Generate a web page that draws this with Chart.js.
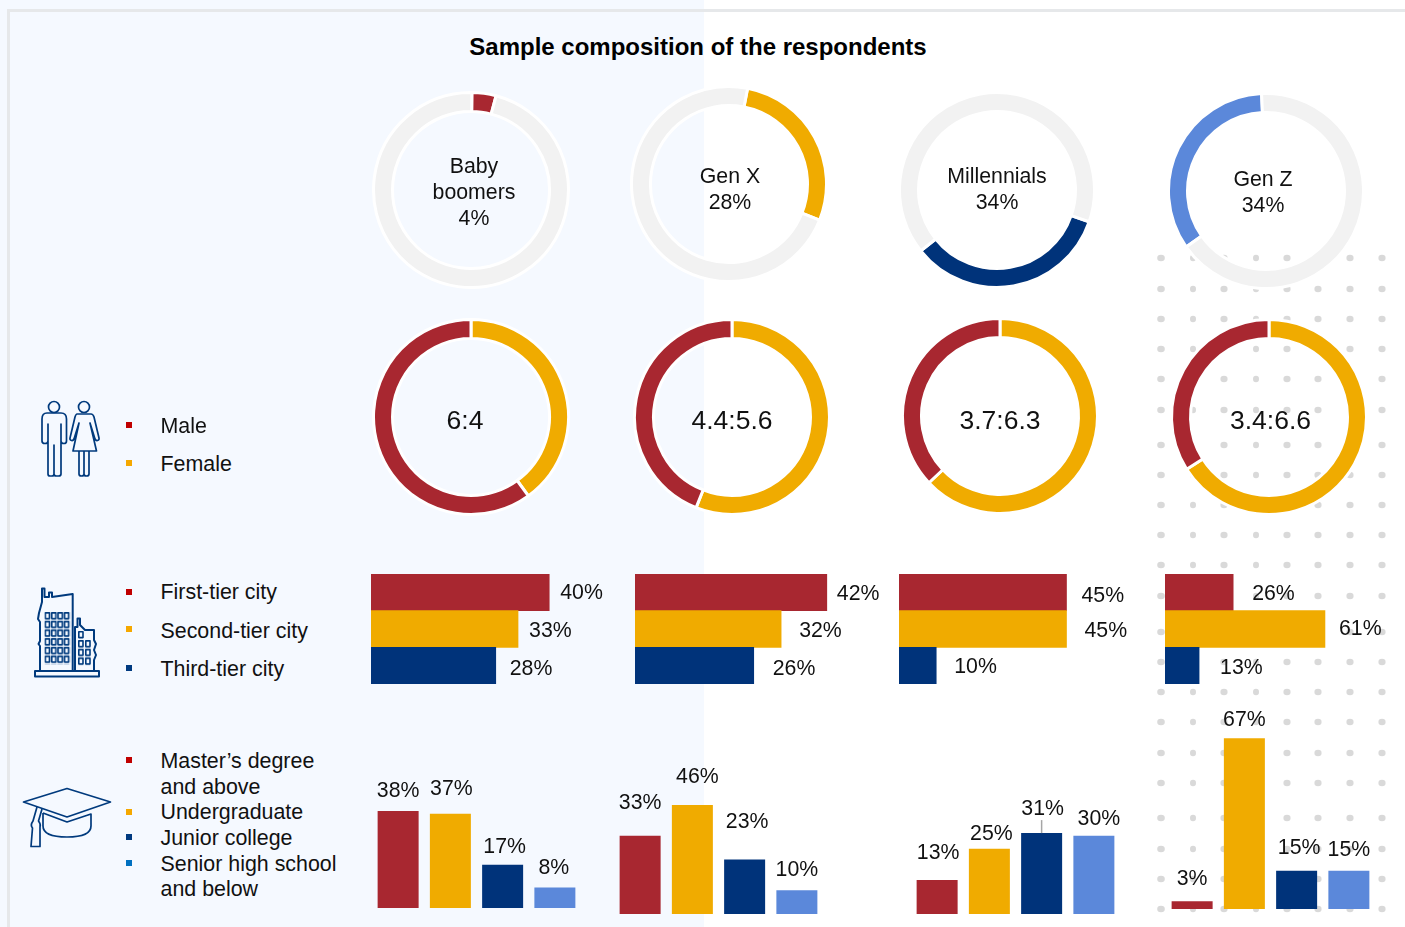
<!DOCTYPE html>
<html>
<head>
<meta charset="utf-8">
<title>Sample composition of the respondents</title>
<script src="https://cdn.jsdelivr.net/npm/chart.js@4"></script>
<style>
    html, body { margin: 0; padding: 0; background: #fff; }
    body { position: relative; width: 1405px; height: 927px; overflow: hidden; font-family: "Liberation Sans", Arial, sans-serif; color: #111; }
    #panel { position: absolute; left: 0; top: 0; width: 704px; height: 927px; background: #f5f9ff; }
    #frameTop { position: absolute; left: 7px; top: 9px; width: 1398px; height: 3px; background: #e6e8ea; }
    #frameLeft { position: absolute; left: 7px; top: 9px; width: 3px; height: 918px; background: #e6e8ea; }
    h1 { position: absolute; left: 398px; top: 33px; width: 600px; margin: 0; font-size: 24px; line-height: 28px; font-weight: bold; text-align: center; color: #000; }
    canvas { position: absolute; }
    .legend { position: absolute; left: 160.5px; font-size: 21.4px; line-height: 26px; white-space: nowrap; transform: translateY(-50%); }
    .marker { position: absolute; left: 126px; width: 6px; height: 6px; transform: translateY(-50%); }
    .center { position: absolute; text-align: center; font-size: 21.3px; line-height: 26px; white-space: nowrap; transform: translate(-50%, -50%); }
    .ratio { font-size: 26.5px; line-height: 30px; }
    svg { position: absolute; left: 0; top: 0; }
</style>
</head>
<body>
<div id="panel"></div>
<svg id="dots" width="1405" height="927"></svg>
<div id="frameTop"></div>
<div id="frameLeft"></div>
<h1>Sample composition of the respondents</h1>

<svg width="1405" height="927" fill="none" stroke="#003a7d" stroke-width="1.7" stroke-linejoin="round">
    <defs>
        <pattern id="windows" x="44.5" y="612" width="6.4" height="8.7" patternUnits="userSpaceOnUse">
            <rect x="0.8" y="0.8" width="4.2" height="5.8" fill="none" stroke="#003a7d" stroke-width="1.6"/>
        </pattern>
        <pattern id="windowsSmall" x="78" y="640" width="7" height="8.7" patternUnits="userSpaceOnUse">
            <rect x="0.8" y="0.8" width="4.2" height="5.8" fill="none" stroke="#003a7d" stroke-width="1.6"/>
        </pattern>
    </defs>
    <!-- people -->
    <circle cx="54" cy="407" r="5.5"/>
    <path d="M61 424 V474 Q61 476 58.5 476 H56.5 Q54 476 54 474 V445 V474 Q54 476 52 476 H50 Q48 476 48 474 V424 V441 Q48 443.5 45 443.5 Q42 443.5 42 441 V419 Q42 413 47 413 H61 Q66.5 413 66.5 419 V441 Q66.5 443.5 64 443.5 Q61 443.5 61 441 Z"/>
    <circle cx="84" cy="407" r="5.5"/>
    <path d="M77 414 H91 Q93 414 94 417 L99 438 Q99.5 440 97.5 440.5 Q96 441 95 439 L90 423 L96.5 451 H73 L79 423 L74 439 Q73 441 71.5 440.5 Q69.5 440 70 438 L75 417 Q76 414 77 414 Z"/>
    <path d="M79 451 V474 Q79 476 81.5 476 Q84 476 84 474 V451 M84 474 Q84 476 86.5 476 Q89 476 89 474 V451"/>
    <!-- building -->
    <path d="M35 671 H99 V676.5 H35 Z" stroke-width="2"/>
    <path d="M40 671 V646 L38.5 644 L40 641 V622 L38 619 L39 613 L42 602 V588.5 H44.5 V597 H49 V592.5 H52 V597 L72.7 594 V671" stroke-width="2"/>
    <path d="M75 671 V627 H77.5 V618.5 H80 V625 L85 630 H94 V640 L96 644 L94 650 L96 655 L94 660 V671" stroke-width="2"/>
    <rect x="44.5" y="612" width="25.6" height="52.2" fill="url(#windows)" stroke="none"/>
    <rect x="78" y="640" width="14" height="26" fill="url(#windowsSmall)" stroke="none"/>
    <rect x="78.8" y="631.8" width="4.2" height="5.8" stroke-width="1.6"/>
    <!-- cap -->
    <path d="M23.5 802 L67 788.5 L110.5 802 L67 817 Z"/>
    <path d="M43 813 V826 Q43 837 67 837 Q91 837 91 826 V814 L67 822 L43 813"/>
    <path d="M37 807 L33 821 Q30 825 32.5 828 L31 846.5 H40 L40 827 Q41 824 38.5 821 L42 809"/>
</svg>

<script>
const generations = ['Baby boomers', 'Gen X', 'Millennials', 'Gen Z'];

// share of each generation in the sample
const generationShare = [4, 28, 34, 34];
const generationColors = ['#a82730', '#f0ab00', '#00337a', '#5b88da'];

// male : female
const maleShare = [60, 44, 37, 34];
const femaleShare = [40, 56, 63, 66];
const genderLabels = ['6:4', '4.4:5.6', '3.7:6.3', '3.4:6.6'];

const cityLabels = ['First-tier city', 'Second-tier city', 'Third-tier city'];
const cityBabyBoomers = [40, 33, 28];
const cityGenX = [42, 32, 26];
const cityMillennials = [45, 45, 10];
const cityGenZ = [26, 61, 13];

const eduLabels = ['Master\u2019s degree and above', 'Undergraduate', 'Junior college', 'Senior high school and below'];
const eduBabyBoomers = [38, 37, 17, 8];
const eduGenX = [33, 46, 23, 10];
const eduMillennials = [13, 25, 31, 30];
const eduGenZ = [3, 67, 15, 15];

const red = '#a82730';
const yellow = '#f0ab00';
const navy = '#00337a';
const lightBlue = '#5b88da';
const grey = '#f2f2f2';

Chart.defaults.font.family = '"Liberation Sans", Arial, sans-serif';
Chart.defaults.animation = false;

// decoration behind the Gen Z column, the rows are not quite evenly spaced
const dotColumns = [1161, 1193, 1224, 1256, 1287, 1318, 1350, 1382];
const dotWidths = [3.8, 3, 3.6, 3, 3.6, 3.6, 3.6, 3.6];
const dotRows = [258, 289, 319, 349, 379, 410, 445, 475, 505, 535, 565, 596, 632, 662, 692, 722, 753, 783, 818, 849, 879, 909];
let dotMarkup = '';
dotRows.forEach(y => {
    dotColumns.forEach((x, i) => {
        dotMarkup += '<ellipse cx="' + x + '" cy="' + y + '" rx="' + dotWidths[i] + '" ry="3.2" fill="#d9d9d9"/>';
    });
});
document.getElementById('dots').innerHTML = dotMarkup;

// draws the % figure next to each bar, the positions were nudged by hand in the original too
const barLabelPlugin = {
    id: 'barLabelPlugin',
    afterDatasetsDraw: function (chart, args, opts) {
        const { ctx } = chart;
        const meta = chart.getDatasetMeta(0);
        ctx.save();
        ctx.font = '21.3px "Liberation Sans", Arial, sans-serif';
        ctx.fillStyle = '#111';
        ctx.textBaseline = 'middle';
        ctx.textAlign = opts.align;
        meta.data.forEach((bar, i) => {
            const x = bar.x + opts.dx[i];
            const y = bar.y + opts.dy[i] + 1;
            if (opts.leader && opts.leader[i]) {
                ctx.strokeStyle = '#a6a6a6';
                ctx.lineWidth = 1.5;
                ctx.beginPath();
                ctx.moveTo(bar.x, bar.y);
                ctx.lineTo(bar.x, bar.y - opts.leader[i]);
                ctx.stroke();
            }
            ctx.fillText(chart.data.datasets[0].data[i] + '%', x, y);
        });
        ctx.restore();
    }
};

function addCanvas(left, top, width, height) {
    const canvas = document.createElement('canvas');
    canvas.width = width;
    canvas.height = height;
    canvas.style.left = left + 'px';
    canvas.style.top = top + 'px';
    document.body.appendChild(canvas);
    return canvas;
}

function ring(cx, cy, values, colors, rotation) {
    const size = 200;
    return new Chart(addCanvas(cx - size / 2, cy - size / 2, size, size), {
        type: 'doughnut',
        data: {
            datasets: [{
                data: values,
                backgroundColor: colors,
                borderColor: '#fff',
                borderWidth: 3
            }]
        },
        options: {
            responsive: false,
            radius: 97.5,
            cutout: '80.5%',
            rotation: rotation,
            plugins: { legend: { display: false }, tooltip: { enabled: false } }
        }
    });
}

function cityChart(left, top, values, pxPerPercent, dx, dy) {
    const axisMax = 90;
    return new Chart(addCanvas(left, top, Math.round(axisMax * pxPerPercent), 110), {
        type: 'bar',
        data: {
            labels: cityLabels,
            datasets: [{
                data: values,
                backgroundColor: [red, yellow, navy],
                barPercentage: 1,
                categoryPercentage: 1
            }]
        },
        options: {
            responsive: false,
            indexAxis: 'y',
            scales: {
                x: { display: false, min: 0, max: axisMax },
                y: { display: false }
            },
            plugins: {
                legend: { display: false },
                tooltip: { enabled: false },
                barLabelPlugin: { align: 'left', dx: dx, dy: dy }
            }
        },
        plugins: [barLabelPlugin]
    });
}

function eduChart(left, baseline, values, pxPerPercent, dx, dy, leader) {
    const height = Math.round(100 * pxPerPercent);
    return new Chart(addCanvas(left, baseline - height, 209, height), {
        type: 'bar',
        data: {
            labels: eduLabels,
            datasets: [{
                data: values,
                backgroundColor: [red, yellow, navy, lightBlue],
                barPercentage: 41 / 52.25,
                categoryPercentage: 1
            }]
        },
        options: {
            responsive: false,
            scales: {
                x: { display: false },
                y: { display: false, min: 0, max: 100 }
            },
            plugins: {
                legend: { display: false },
                tooltip: { enabled: false },
                barLabelPlugin: { align: 'center', dx: dx, dy: dy, leader: leader }
            }
        },
        plugins: [barLabelPlugin]
    });
}

function addText(cls, y, html, x, color) {
    const el = document.createElement('div');
    el.className = cls;
    if (x) el.style.left = x + 'px';
    el.style.top = y + 'px';
    if (color) el.style.background = color;
    el.innerHTML = html;
    document.body.appendChild(el);
}

// generation rings
ring(471, 190, [generationShare[0], 100 - generationShare[0]], [generationColors[0], grey], 0.5);
ring(729, 184, [generationShare[1], 100 - generationShare[1]], [generationColors[1], grey], 11);
ring(997, 190, [generationShare[2], 100 - generationShare[2]], [generationColors[2], grey], 109);
ring(1266, 190.5, [generationShare[3], 100 - generationShare[3]], [generationColors[3], grey], 235);

addText('center', 192, 'Baby<br>boomers<br>' + generationShare[0] + '%', 474);
addText('center', 188.5, generations[1] + '<br>' + generationShare[1] + '%', 730);
addText('center', 188.5, generations[2] + '<br>' + generationShare[2] + '%', 997);
addText('center', 192, generations[3] + '<br>' + generationShare[3] + '%', 1263);

// gender rings, female runs clockwise from the top
const genderCenters = [[470.5, 416.5], [732, 416.5], [999.5, 416], [1269, 416.5]];
const ratioCenters = [465, 732, 1000, 1270.5];
genderCenters.forEach((c, i) => {
    ring(c[0], c[1], [femaleShare[i], maleShare[i]], [yellow, red], 0);
    addText('center ratio', 420, genderLabels[i], ratioCenters[i]);
});

// city tier bars
cityChart(371, 574, cityBabyBoomers, 4.45, [11, 11, 14], [0, 1, 2.5]);
cityChart(635, 574, cityGenX, 4.57, [10, 18, 19], [1, 1, 2.5]);
cityChart(899, 574, cityMillennials, 3.72, [15, 18, 18], [3, 1.5, 0.5]);
cityChart(1165, 574, cityGenZ, 2.622, [19, 14, 21], [1, -1, 1.5]);

// education bars
eduChart(372, 908, eduBabyBoomers, 2.55, [0, 1, 2, -1], [-21, -26, -19, -20]);
eduChart(614, 914, eduGenX, 2.37, [0, 5, 2.5, 0], [-34, -29, -38, -21]);
eduChart(911, 914, eduMillennials, 2.61, [1, 2, 1, 5], [-28, -16, -25, -18], [0, 0, 13, 0]);
eduChart(1166, 909, eduGenZ, 2.55, [0, 0, 2.5, 0], [-23, -19, -24, -22]);

// left hand legends
addText('legend', 426, 'Male');
addText('legend', 464, 'Female');
addText('marker', 425, '', null, '#c00000');
addText('marker', 463, '', null, '#f5a800');

cityLabels.forEach((label, i) => {
    addText('legend', [592, 631, 669][i], label);
    addText('marker', [592, 629, 668][i], '', null, ['#c00000', '#f5a800', '#003a80'][i]);
});

addText('legend', 761, 'Master\u2019s degree');
addText('legend', 787, 'and above');
addText('legend', 812, eduLabels[1]);
addText('legend', 838, eduLabels[2]);
addText('legend', 864, 'Senior high school');
addText('legend', 889, 'and below');
[760, 812, 837, 863].forEach((y, i) => {
    addText('marker', y, '', null, ['#c00000', '#f5a800', '#003a80', '#0070c0'][i]);
});
</script>
</body>
</html>
